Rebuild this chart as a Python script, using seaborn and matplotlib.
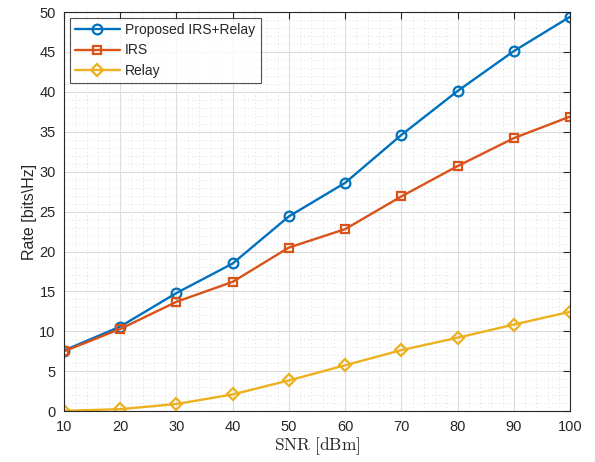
import matplotlib
matplotlib.use("Agg")
import matplotlib.pyplot as plt
from matplotlib.ticker import MultipleLocator
import seaborn as sns
import pandas as pd

snr = [10, 20, 30, 40, 50, 60, 70, 80, 90, 100]
rate_proposed = [7.6, 10.6, 14.8, 18.5, 24.4, 28.6, 34.6, 40.1, 45.1, 49.4]
rate_irs = [7.5, 10.3, 13.7, 16.2, 20.5, 22.8, 26.9, 30.7, 34.2, 36.9]
rate_relay = [0.05, 0.25, 0.9, 2.1, 3.85, 5.75, 7.65, 9.2, 10.85, 12.45]
labels = ["Proposed IRS+Relay", "IRS", "Relay"]

sns.set_style("white")
plt.rcParams['font.family'] = ['Liberation Sans', 'DejaVu Sans']
plt.rcParams['mathtext.fontset'] = 'cm'

fig = plt.figure(figsize=(5.95, 4.62), dpi=100)
ax = fig.add_axes([0.1076, 0.110, 0.8504, 0.864])

colors = ["#0072BD", "#D95319", "#EDB120"]
markers = ["o", "s", "D"]
msizes = [7, 6, 6.5]
series = [rate_proposed, rate_irs, rate_relay]
for vals, lab, c, m, ms in zip(series, labels, colors, markers, msizes):
    df = pd.DataFrame({"SNR": snr, "Rate": vals})
    sns.lineplot(data=df, x="SNR", y="Rate", ax=ax, color=c, marker=m,
                 markersize=ms, mfc="none", mec=c, mew=1.6, lw=1.7, label=lab)

ax.set_xlim(10, 100)
ax.set_ylim(0, 50)
ax.xaxis.set_major_locator(MultipleLocator(10))
ax.yaxis.set_major_locator(MultipleLocator(5))
ax.xaxis.set_minor_locator(MultipleLocator(2))
ax.yaxis.set_minor_locator(MultipleLocator(1))
ax.grid(which="major", color="#dcdcdc", lw=0.8, ls="-")
ax.grid(which="minor", color="#d2d2d2", lw=0.6, ls=(0, (1, 3.5)))
ax.set_axisbelow(True)
ax.tick_params(which="major", direction="in", length=5, top=True, right=True,
               labelsize=10.5, colors="#262626", width=0.8)
ax.tick_params(axis="x", which="major", pad=6)
ax.tick_params(axis="y", which="major", pad=6)
ax.tick_params(which="minor", length=0)
for s in ax.spines.values():
    s.set_color("#262626")
    s.set_linewidth(0.8)

ax.set_xlabel(r"$\mathrm{SNR\ [dBm]}$", fontsize=12.5, color="#262626", labelpad=1)
ax.set_ylabel(r"Rate [bits\Hz]", fontsize=11.5, color="#262626", labelpad=1.5)

leg = ax.legend(loc="upper left", fontsize=10, frameon=True, fancybox=False,
                edgecolor="#262626", borderaxespad=0.4, handlelength=3.2,
                borderpad=0.4, labelspacing=0.45, handletextpad=0.4)
leg.get_frame().set_linewidth(0.8)

fig.savefig("out.png", dpi=100)
